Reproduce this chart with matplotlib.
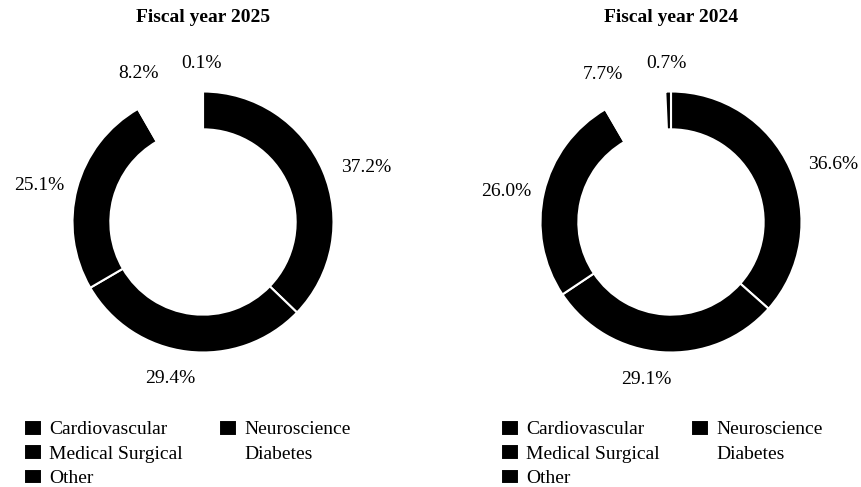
import matplotlib.pyplot as plt

plt.rcParams['font.family'] = ['Liberation Serif', 'DejaVu Serif']

# segments in drawing order (clockwise from 12 o'clock)
segments = ["Cardiovascular", "Neuroscience", "Medical Surgical", "Diabetes", "Other"]
share_2025 = [37.2, 29.4, 25.1, 8.2, 0.1]
share_2024 = [36.6, 29.1, 26.0, 7.7, 0.7]
colors = ["black", "black", "black", "white", "black"]
titles = ["Fiscal year 2025", "Fiscal year 2024"]

# small pixel nudges for the percent labels (x right, y down), per segment
label_nudge = [(13, 9), (-13, -5), (-6, 6), (-22, 9), (-1, 5)]

W, H = 862, 487
fig = plt.figure(figsize=(W / 100, H / 100), dpi=100)

centers_x = [203, 671]
center_y = 222
r_px = 130.5
lim = 1.4
size = 2 * lim * r_px
legend_x = [24, 501]
legend_colsp = [1.85, 1.6]

for i, (vals, title) in enumerate(zip([share_2025, share_2024], titles)):
    cx = centers_x[i]
    ax = fig.add_axes([(cx - size / 2) / W, (H - center_y - size / 2) / H,
                       size / W, size / H])
    wedges, _, autotexts = ax.pie(vals, colors=colors, startangle=90,
                                  counterclock=False, autopct='%.1f%%',
                                  pctdistance=1.25,
                                  wedgeprops=dict(width=0.29, edgecolor='white',
                                                  linewidth=1.5),
                                  textprops=dict(fontsize=14, color='black'))
    for t, v, (dx, dy) in zip(autotexts, vals, label_nudge):
        t.set_text(f"{v:.1f}%")
        x, y = t.get_position()
        t.set_position((x + dx / r_px, y - dy / r_px))
    ax.set_xlim(-lim, lim)
    ax.set_ylim(-lim, lim)
    ax.set_aspect('equal')
    ax.axis('off')

    fig.text(cx / W, 1 - 18 / H, title, ha='center', va='center',
             fontsize=14, fontweight='bold')

    # legend fills column-wise: Cardio, Med Surg, Other | Neuro, Diabetes
    order = [0, 2, 4, 1, 3]
    fig.legend([wedges[k] for k in order], [segments[k] for k in order],
               ncol=2, loc='upper left',
               bbox_to_anchor=(legend_x[i] / W, 1 - 420 / H),
               frameon=False, fontsize=14, borderpad=0, borderaxespad=0,
               handlelength=0.95, handleheight=0.85, handletextpad=0.35,
               labelspacing=0.3, columnspacing=legend_colsp[i])

fig.savefig("out.png", dpi=100)
